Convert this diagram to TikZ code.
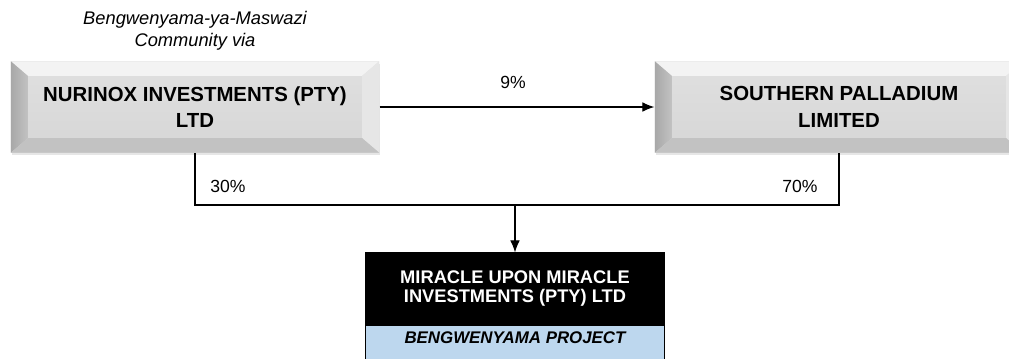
\documentclass[tikz,border=0pt]{standalone}
\usepackage{fontspec}
\setmainfont{Liberation Sans}
\usetikzlibrary{arrows.meta,positioning,shadows}
\definecolor{grayface}{HTML}{D6D6D6}
\definecolor{grayfacetop}{HTML}{E0E0E0}
\definecolor{graytop}{HTML}{F3F3F3}
\definecolor{grayleft}{HTML}{A8A8A8}
\definecolor{grayright}{HTML}{E6E6E6}
\definecolor{graybottom}{HTML}{C2C2C2}
\definecolor{blue100}{HTML}{BDD7EE}
\def\bevx{0.42cm}
\def\bevy{0.36cm}
\tikzstyle{bevelbox}=[rectangle, top color=grayfacetop, bottom color=grayface, minimum width=9.2cm, minimum height=2.28cm, inner sep=0pt, align=center,
	font=\bfseries\fontsize{14.5}{18.8}\selectfont,
	drop shadow={opacity=0.2, shadow xshift=0.5pt, shadow yshift=-1.5pt},
	path picture={
		\fill[graytop] (path picture bounding box.north west) -- (path picture bounding box.north east)
			-- ([xshift=-\bevx,yshift=-\bevy]path picture bounding box.north east) -- ([xshift=\bevx,yshift=-\bevy]path picture bounding box.north west) -- cycle;
		\shade[left color=grayleft, right color=graybottom] (path picture bounding box.north west) -- ([xshift=\bevx,yshift=-\bevy]path picture bounding box.north west)
			-- ([xshift=\bevx,yshift=\bevy]path picture bounding box.south west) -- (path picture bounding box.south west) -- cycle;
		\fill[grayright] (path picture bounding box.north east) -- ([xshift=-\bevx,yshift=-\bevy]path picture bounding box.north east)
			-- ([xshift=-\bevx,yshift=\bevy]path picture bounding box.south east) -- (path picture bounding box.south east) -- cycle;
		\fill[graybottom] (path picture bounding box.south west) -- ([xshift=\bevx,yshift=\bevy]path picture bounding box.south west)
			-- ([xshift=-\bevx,yshift=\bevy]path picture bounding box.south east) -- (path picture bounding box.south east) -- cycle;
	}]
\tikzstyle{blackbox}=[rectangle, draw=black, fill=black, text=white, minimum width=7.475cm, minimum height=1.775cm, inner sep=0pt, align=center,
	font=\bfseries\fontsize{13}{13}\selectfont]
\tikzstyle{projbox}=[rectangle, draw=black, fill=blue100, minimum width=7.475cm, inner sep=0pt, text height=0.45cm, text depth=0.5cm,
	font=\bfseries\itshape\fontsize{12}{14}\selectfont]
\tikzstyle{pct}=[font=\fontsize{12.5}{14}\selectfont]
\tikzstyle{flow}=[-{Latex[length=3mm,width=2.4mm]}]

\begin{document}
\begin{tikzpicture}[x=0.025cm, y=-0.025cm, line width=0.8pt]
			\useasboundingbox (0,0) rectangle (1009,358);
			\node[bevelbox] (nur) at (195,107) {NURINOX INVESTMENTS (PTY)\\LTD};
			\node[bevelbox] (sou) at (839,107) {SOUTHERN PALLADIUM\\LIMITED};
			\node[align=center, font=\itshape\fontsize{13}{15.6}\selectfont] (via) at (195,31) {Bengwenyama-ya-Maswazi\\Community via};
			\node[blackbox] (mir) at (515,288.5) {MIRACLE UPON MIRACLE\\INVESTMENTS (PTY) LTD};
			\node[projbox, below=0pt of mir] (proj) {BENGWENYAMA PROJECT};
			\coordinate (join) at (515,205);
			\node[pct] (p9) at (513,82) {9\%};
			\node[pct] (p30) at (228,186) {30\%};
			\node[pct] (p70) at (800,186) {70\%};
			\draw[flow] (nur) -- (sou);
			\draw (nur.south) |- (join) -| (sou.south);
			\draw[flow] (join) -- (mir.north);
		\end{tikzpicture}
\end{document}
